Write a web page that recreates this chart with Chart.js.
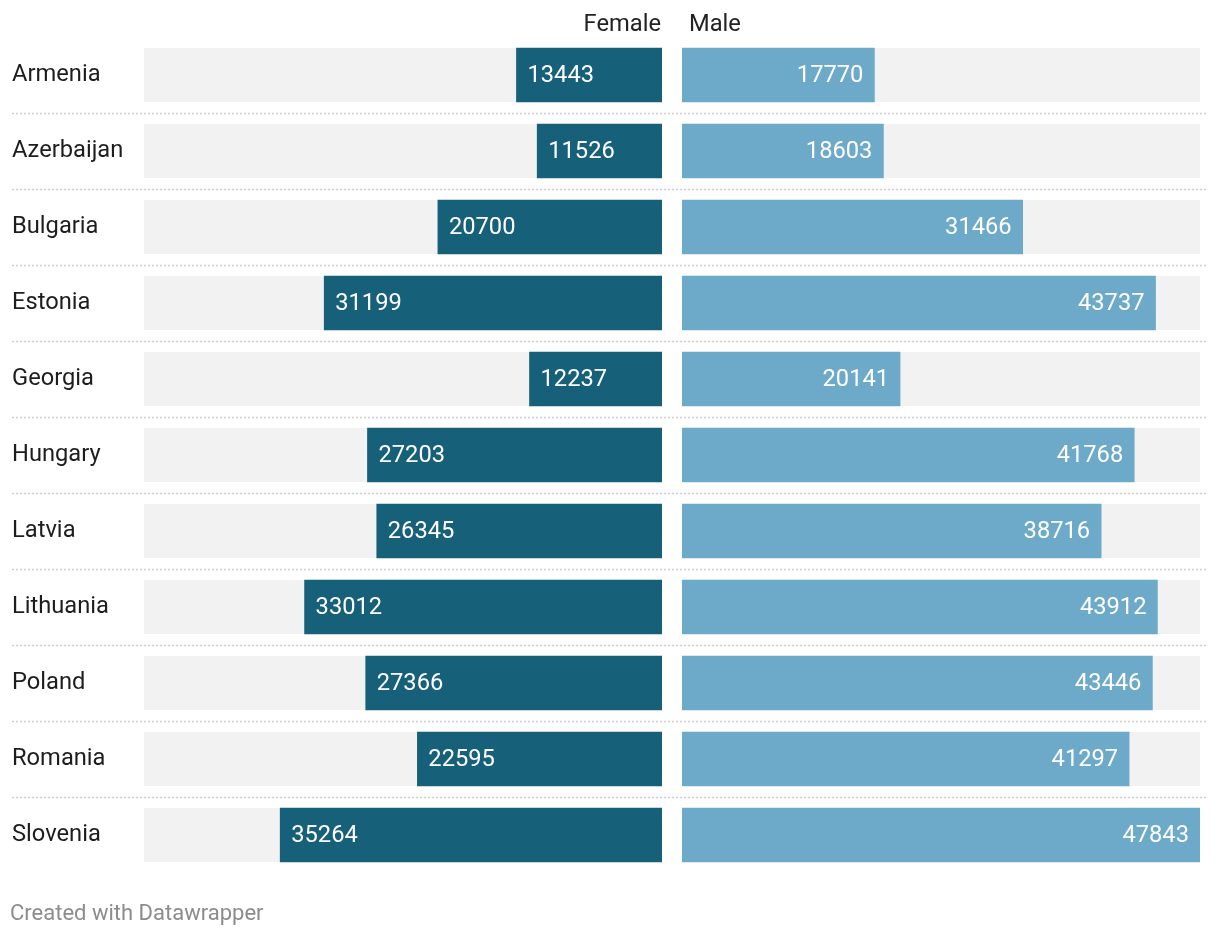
<!DOCTYPE html>
<html>
<head>
<meta charset="utf-8">
<script src="https://cdn.jsdelivr.net/npm/chart.js@4.4.1/dist/chart.umd.min.js"></script>
<style>
  html, body { margin: 0; padding: 0; background: #fff; }
  #wrap { position: relative; width: 1220px; height: 938px; overflow: hidden; }
  #left { position: absolute; left: 0; top: 0; }
  #right { position: absolute; left: 672px; top: 0; }
  #credit { position: absolute; left: 10px; top: 900px; font: 22px Roboto, sans-serif; color: #8c8c8c; white-space: nowrap; }
</style>
</head>
<body>
<div id="wrap">
  <canvas id="left" width="672" height="938"></canvas>
  <canvas id="right" width="548" height="938"></canvas>
  <div id="credit">Created with Datawrapper</div>
</div>
<script>
const countries = ["Armenia", "Azerbaijan", "Bulgaria", "Estonia", "Georgia", "Hungary", "Latvia", "Lithuania", "Poland", "Romania", "Slovenia"];
const female = [13443, 11526, 20700, 31199, 12237, 27203, 26345, 33012, 27366, 22595, 35264];
const male = [17770, 18603, 31466, 43737, 20141, 41768, 38716, 43912, 43446, 41297, 47843];
const seriesNames = ["Female", "Male"];

const FONT = "Roboto, sans-serif";
const SIZE = 23.7;
const maxValue = Math.max(...female, ...male);

// grey track behind each bar, full scale width
const trackPlugin = {
  id: "track",
  beforeDatasetsDraw(chart) {
    const { ctx, chartArea } = chart;
    const meta = chart.getDatasetMeta(0);
    ctx.save();
    ctx.fillStyle = "#f2f2f2";
    meta.data.forEach((bar) => {
      ctx.fillRect(chartArea.left, bar.y - bar.height / 2, chartArea.right - chartArea.left, bar.height);
    });
    ctx.restore();
  }
};

// dotted separators between rows
function separators(x0, x1) {
  return {
    id: "separators",
    beforeDraw(chart) {
      const { ctx } = chart;
      const y = chart.scales.y;
      ctx.save();
      ctx.strokeStyle = "#cfcfcf";
      ctx.lineWidth = 1.5;
      ctx.setLineDash([2, 2]);
      for (let i = 0; i < countries.length - 1; i++) {
        const yy = Math.round((y.getPixelForValue(i) + y.getPixelForValue(i + 1)) / 2) + 0.5;
        ctx.beginPath();
        ctx.moveTo(x0, yy);
        ctx.lineTo(x1, yy);
        ctx.stroke();
      }
      ctx.restore();
    }
  };
}

// header + value labels
function labels(side) {
  return {
    id: "labels",
    afterDatasetsDraw(chart) {
      const { ctx, chartArea } = chart;
      const meta = chart.getDatasetMeta(0);
      const values = chart.data.datasets[0].data;
      ctx.save();
      ctx.font = SIZE + "px " + FONT;
      ctx.textBaseline = "middle";
      ctx.fillStyle = "#222";
      if (side === "left") {
        ctx.textAlign = "right";
        ctx.fillText(seriesNames[0], chartArea.right - 1, 25);
      } else {
        ctx.textAlign = "left";
        ctx.fillText(seriesNames[1], chartArea.left + 7, 25);
      }
      ctx.fillStyle = "#fff";
      meta.data.forEach((bar, i) => {
        if (side === "left") {
          ctx.textAlign = "left";
          ctx.fillText(String(values[i]), Math.min(bar.x, bar.base) + 11, bar.y + 1);
        } else {
          ctx.textAlign = "right";
          ctx.fillText(String(values[i]), Math.max(bar.x, bar.base) - 11, bar.y + 1);
        }
      });
      ctx.restore();
    }
  };
}

function makeChart(id, side, data, color) {
  const isLeft = side === "left";
  return new Chart(document.getElementById(id), {
    type: "bar",
    data: {
      labels: countries,
      datasets: [{
        label: isLeft ? seriesNames[0] : seriesNames[1],
        data: data,
        backgroundColor: color,
        barThickness: 54,
        borderWidth: 0
      }]
    },
    options: {
      indexAxis: "y",
      responsive: false,
      animation: false,
      events: [],
      layout: {
        padding: isLeft
          ? { left: 12, right: 10, top: 37, bottom: 65 }
          : { left: 10, right: 20, top: 37, bottom: 65 }
      },
      plugins: { legend: { display: false }, tooltip: { enabled: false } },
      scales: {
        x: {
          display: false,
          min: 0,
          max: maxValue,
          reverse: isLeft
        },
        y: {
          display: isLeft,
          grid: { display: false },
          border: { display: false },
          afterFit(scale) { scale.width = isLeft ? 132 : 0; },
          ticks: {
            crossAlign: "far",
            padding: 0,
            color: "#1d1d1d",
            font: { family: FONT, size: SIZE }
          }
        }
      }
    },
    plugins: [
      isLeft ? separators(12, 672) : separators(0, 536),
      trackPlugin,
      labels(side)
    ]
  });
}

makeChart("left", "left", female, "#17607a");
makeChart("right", "right", male, "#6daac9");
</script>
</body>
</html>
